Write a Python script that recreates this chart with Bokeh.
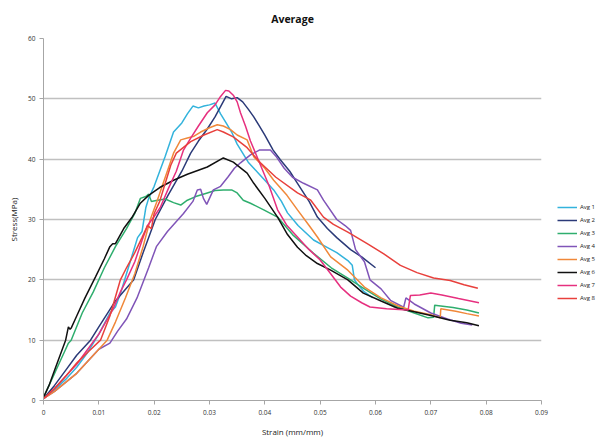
from bokeh.plotting import figure
from bokeh.models import FixedTicker, Legend, LegendItem, Range1d
from bokeh.embed import file_html
from bokeh.resources import INLINE

# ---------------- data ----------------
x_ticks = [0, 0.01, 0.02, 0.03, 0.04, 0.05, 0.06, 0.07, 0.08, 0.09]
x_tick_labels = ["0", "0.01", "0.02", "0.03", "0.04", "0.05", "0.06", "0.07", "0.08", "0.09"]
y_ticks = [0, 10, 20, 30, 40, 50, 60]

series_names = ["Avg 1", "Avg 2", "Avg 3", "Avg 4", "Avg 5", "Avg 6", "Avg 7", "Avg 8"]
series_colors = ["#33b3dc", "#2b3a78", "#2fae6e", "#8055b8", "#f0883a", "#111111", "#e6307f", "#e8403c"]

avg1_x = [0, 0.002, 0.004, 0.006, 0.008, 0.010, 0.012, 0.013, 0.014, 0.015, 0.016, 0.017, 0.0178, 0.0185, 0.019, 0.020, 0.021, 0.022, 0.0235, 0.025, 0.026, 0.027, 0.028, 0.029, 0.030, 0.031, 0.032, 0.033, 0.034, 0.035, 0.036, 0.037, 0.038, 0.039, 0.040, 0.0416, 0.043, 0.0441, 0.046, 0.0488, 0.051, 0.053, 0.055, 0.0558, 0.0562, 0.057, 0.058, 0.0595]
avg1_y = [0.3, 1.8, 3.5, 5.5, 8, 11, 14.5, 15.5, 18, 21, 24, 27, 28, 32, 33.5, 35.5, 38, 40.5, 44.5, 46, 47.5, 48.8, 48.5, 48.8, 49, 49.3, 47.5, 46, 44.5, 42.5, 41, 39.5, 38.5, 37.5, 36.5, 34.9, 33, 31.1, 29, 26.6, 25.5, 24.5, 23.2, 22.4, 20, 19, 18, 17]

avg2_x = [0, 0.002, 0.004, 0.006, 0.0085, 0.010, 0.013, 0.0163, 0.018, 0.0202, 0.0225, 0.025, 0.0266, 0.028, 0.0296, 0.031, 0.032, 0.033, 0.034, 0.035, 0.036, 0.037, 0.038, 0.039, 0.040, 0.0415, 0.0428, 0.0445, 0.0459, 0.048, 0.0495, 0.0513, 0.053, 0.0555, 0.0575, 0.060]
avg2_y = [0.3, 2.5, 5, 7.5, 10, 12.2, 16.5, 20, 24.5, 30, 34, 38, 41, 43, 45, 47, 48.7, 50.4, 50, 50.2, 49.5, 48.3, 47, 45.5, 44, 41.5, 39.9, 38, 36, 33, 30.4, 28.5, 27, 25, 23.8, 22]

avg3_x = [0, 0.001, 0.002, 0.003, 0.004, 0.0045, 0.005, 0.007, 0.009, 0.011, 0.013, 0.015, 0.0165, 0.0175, 0.0185, 0.019, 0.0195, 0.0206, 0.022, 0.0235, 0.0248, 0.026, 0.0275, 0.0296, 0.031, 0.0325, 0.034, 0.035, 0.0361, 0.0374, 0.0398, 0.0423, 0.045, 0.0488, 0.052, 0.055, 0.058, 0.061, 0.064, 0.067, 0.0695, 0.0705, 0.0707, 0.074, 0.0765, 0.0787]
avg3_y = [0.5, 2.5, 4.5, 6.5, 8.5, 9.5, 10, 14.5, 18, 22, 25.5, 28.5, 31, 33.5, 33.8, 34.2, 33, 33.2, 33.4, 32.8, 32.4, 33.2, 33.8, 34.4, 34.8, 34.9, 34.9, 34.4, 33.2, 32.7, 31.6, 30.4, 27.5, 24.4, 22, 20.3, 18.5, 16.8, 15.5, 14.5, 13.7, 13.8, 15.8, 15.4, 15, 14.5]

avg4_x = [0, 0.002, 0.004, 0.006, 0.008, 0.010, 0.012, 0.0134, 0.015, 0.0169, 0.019, 0.0204, 0.0224, 0.0253, 0.027, 0.0278, 0.0284, 0.0289, 0.0295, 0.0307, 0.032, 0.0333, 0.0345, 0.0356, 0.0374, 0.039, 0.041, 0.042, 0.0435, 0.045, 0.047, 0.0495, 0.0506, 0.053, 0.0545, 0.0555, 0.0564, 0.058, 0.059, 0.061, 0.0627, 0.065, 0.0651, 0.0655, 0.067, 0.070, 0.073, 0.0755, 0.0775]
avg4_y = [0.3, 1.5, 3, 4.5, 6.5, 8.5, 9.5, 11.5, 13.5, 17, 22, 25.5, 28, 31, 33, 34.9, 35, 33.5, 32.5, 34.9, 35.5, 37, 38.5, 39.4, 40.7, 41.5, 41.5, 40.5, 38.5, 37, 36, 34.9, 33.2, 30, 29, 28.2, 25, 23, 20, 18.5, 16.6, 15.5, 15.5, 17, 16, 14.5, 13.5, 12.8, 12.5]

avg5_x = [0, 0.002, 0.004, 0.006, 0.008, 0.010, 0.0115, 0.013, 0.0148, 0.0165, 0.018, 0.0193, 0.0205, 0.022, 0.0235, 0.0248, 0.026, 0.0272, 0.0284, 0.030, 0.0314, 0.0325, 0.0338, 0.035, 0.0368, 0.038, 0.040, 0.0416, 0.044, 0.0459, 0.048, 0.0495, 0.0519, 0.055, 0.058, 0.061, 0.064, 0.067, 0.070, 0.0717, 0.0718, 0.0745, 0.0765, 0.0787]
avg5_y = [0.3, 1.5, 3, 4.5, 6.5, 8.5, 10, 13, 17, 21, 25.5, 30, 33, 37, 41, 43.2, 43.5, 43.8, 44.5, 45.2, 45.7, 45.5, 44.9, 44, 43.2, 40.4, 38.5, 36.5, 34, 31.6, 29, 27.1, 23.8, 21.6, 18.8, 17, 15.7, 14.8, 14.2, 13.7, 15.2, 14.8, 14.4, 14]

avg6_x = [0, 0.001, 0.002, 0.003, 0.004, 0.0045, 0.0048, 0.005, 0.006, 0.0075, 0.0094, 0.011, 0.012, 0.0125, 0.013, 0.0145, 0.0161, 0.0175, 0.019, 0.021, 0.0235, 0.026, 0.0296, 0.0325, 0.0343, 0.0368, 0.038, 0.040, 0.0423, 0.0441, 0.0459, 0.0475, 0.0495, 0.0519, 0.055, 0.0578, 0.061, 0.064, 0.067, 0.070, 0.0735, 0.0765, 0.0787]
avg6_y = [0.5, 2.5, 5, 7.5, 10, 12.2, 11.8, 12, 14, 17, 20.5, 23.5, 25.5, 26, 26, 28.5, 30.5, 32.7, 34, 35.3, 36.5, 37.5, 38.7, 40.2, 39.5, 37.7, 36, 33.5, 30.4, 27.5, 25.4, 24, 22.7, 21.6, 20, 17.8, 16.5, 15.3, 14.7, 14.1, 13.3, 12.9, 12.4]

avg7_x = [0, 0.002, 0.004, 0.006, 0.008, 0.010, 0.0125, 0.0139, 0.015, 0.0165, 0.0178, 0.0188, 0.020, 0.0211, 0.0225, 0.024, 0.0253, 0.0266, 0.028, 0.0296, 0.031, 0.032, 0.0329, 0.0335, 0.0343, 0.035, 0.0356, 0.0365, 0.0374, 0.039, 0.0408, 0.0423, 0.044, 0.0459, 0.048, 0.050, 0.0519, 0.0537, 0.0555, 0.0575, 0.059, 0.062, 0.0658, 0.0659, 0.0663, 0.068, 0.070, 0.072, 0.075, 0.0787]
avg7_y = [0.3, 2, 4, 6, 8.5, 11, 15, 18, 20, 23, 26.5, 29, 30.5, 32, 35, 38, 41.5, 43.5, 45.5, 47.7, 49, 50.4, 51.4, 51.3, 50.6, 49.5, 47.7, 45.5, 43, 39.5, 35.5, 31.6, 29, 27.1, 25, 23.3, 21, 18.8, 17.3, 16.2, 15.5, 15.2, 15, 15, 17.4, 17.5, 17.8, 17.5, 16.9, 16.2]

avg8_x = [0, 0.002, 0.004, 0.006, 0.008, 0.0103, 0.012, 0.0139, 0.015, 0.0165, 0.0178, 0.0188, 0.0195, 0.020, 0.021, 0.022, 0.023, 0.024, 0.0266, 0.029, 0.0314, 0.0325, 0.0343, 0.0368, 0.0392, 0.042, 0.0459, 0.0483, 0.0506, 0.0524, 0.055, 0.0585, 0.0615, 0.0645, 0.0675, 0.0705, 0.0735, 0.076, 0.0785]
avg8_y = [0.3, 2, 4, 6.2, 8, 10, 14, 20, 22, 24.5, 27, 29, 28.5, 31, 33, 36, 39, 41, 42.9, 44, 44.9, 44.5, 43.7, 41.9, 39.4, 37, 34.4, 33.2, 30.4, 29.2, 27.9, 26, 24.3, 22.4, 21.2, 20.3, 19.9, 19.2, 18.6]

series_x = [avg1_x, avg2_x, avg3_x, avg4_x, avg5_x, avg6_x, avg7_x, avg8_x]
series_y = [avg1_y, avg2_y, avg3_y, avg4_y, avg5_y, avg6_y, avg7_y, avg8_y]

# ---------------- figure ----------------
FONT = "Open Sans"
p = figure(frame_width=498, frame_height=362, output_backend="svg", toolbar_location=None,
           x_range=Range1d(0, 0.09), y_range=Range1d(0, 60),
           min_border_left=43, min_border_right=2, min_border_top=38, min_border_bottom=38,
           title="Average")
p.background_fill_color = "white"
p.border_fill_color = "white"
p.outline_line_color = None

p.title.align = "center"
p.title.vertical_align = "top"
p.title.text_font = FONT
p.title.text_font_style = "bold"
p.title.text_font_size = "10.5px"
p.title.text_color = "#111111"
p.title.standoff = 22

renderers = []
for xs, ys, c in zip(series_x, series_y, series_colors):
    r = p.line(xs, ys, line_color=c, line_width=1.5)
    renderers.append(r)

legend = Legend(items=[LegendItem(label=n, renderers=[r]) for n, r in zip(series_names, renderers)])
legend.location = (16, 98)
legend.background_fill_alpha = 0
legend.border_line_color = None
legend.label_text_font = FONT
legend.label_text_font_size = "6px"
legend.label_text_color = "#222222"
legend.glyph_width = 20
legend.glyph_height = 8
legend.label_height = 8
legend.spacing = 5
legend.padding = 0
legend.margin = 0
legend.label_standoff = 3
p.add_layout(legend, "right")

# axes
p.xaxis.ticker = FixedTicker(ticks=x_ticks)
p.xaxis.major_label_overrides = {t: l for t, l in zip(x_ticks, x_tick_labels)}
p.yaxis.ticker = FixedTicker(ticks=y_ticks)
for ax in (p.xaxis, p.yaxis):
    ax.axis_line_color = "#a6a6a6"
    ax.major_tick_line_color = "#a6a6a6"
    ax.major_tick_out = 4
    ax.major_tick_in = 0
    ax.minor_tick_line_color = None
    ax.major_label_text_font = FONT
    ax.major_label_text_font_size = "6.5px"
    ax.major_label_text_color = "#333333"
    ax.axis_label_text_font = FONT
    ax.axis_label_text_font_style = "normal"
    ax.axis_label_text_font_size = "8px"
    ax.axis_label_text_color = "#222222"
p.xaxis.axis_label = "Strain (mm/mm)"
p.yaxis.axis_label = "Stress(MPa)"
p.xaxis.major_label_standoff = 5
p.yaxis.major_label_standoff = 4
p.xaxis.axis_label_standoff = 8
p.yaxis.axis_label_standoff = 6

p.xgrid.grid_line_color = None
p.ygrid.grid_line_color = "#c0c0c0"
p.ygrid.grid_line_width = 1.5

open("out.html", "w").write(file_html(p, INLINE))
